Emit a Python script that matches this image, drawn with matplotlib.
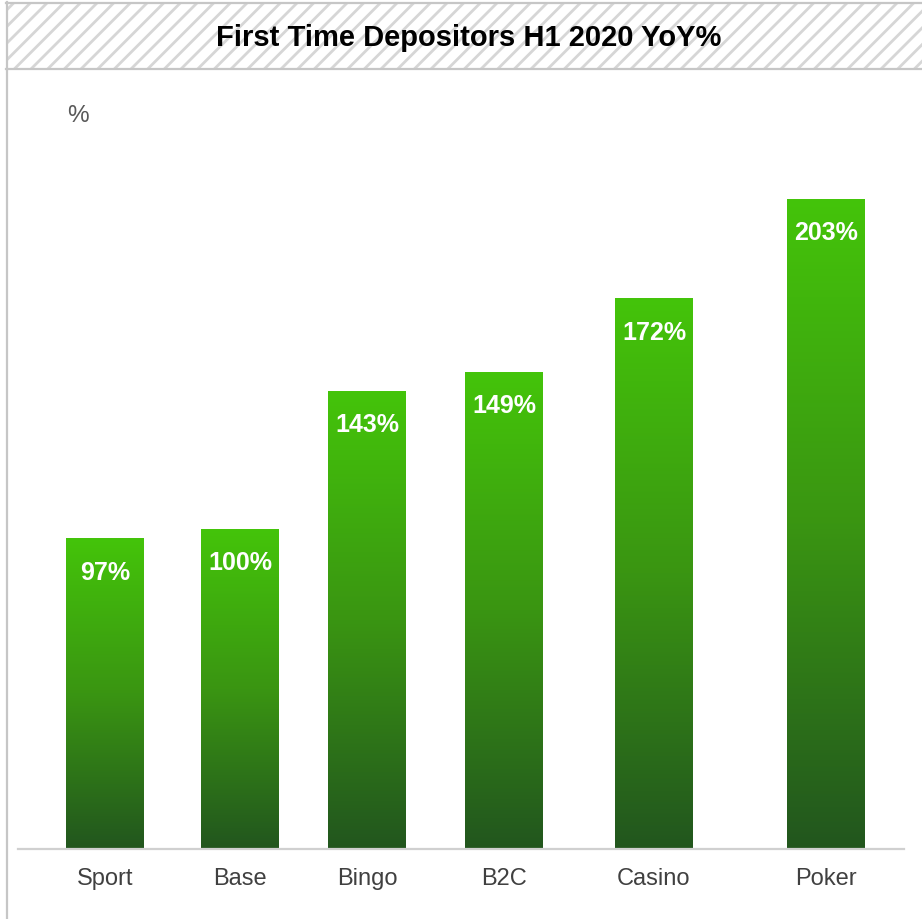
import numpy as np
import matplotlib
matplotlib.use("Agg")
import matplotlib.pyplot as plt
from matplotlib.patches import Rectangle
from matplotlib.colors import LinearSegmentedColormap
from matplotlib.lines import Line2D

# Data
categories = ["Sport", "Base", "Bingo", "B2C", "Casino", "Poker"]
yoy_pct = [97, 100, 143, 149, 172, 203]
value_labels = ["97%", "100%", "143%", "149%", "172%", "203%"]
title_text = "First Time Depositors H1 2020 YoY%"
unit_text = "%"

# Layout (bar centres along the axis, in axis units)
bar_centers = [87, 222, 349, 486, 636, 808]
bar_width = 78

W, H = 922, 920
plt.rcParams["font.family"] = ["Liberation Sans", "DejaVu Sans"]
plt.rcParams["hatch.linewidth"] = 2.0

fig = plt.figure(figsize=(W / 100, H / 100), dpi=100)


def fx(px):
    return px / W


def fy(py):
    return 1 - py / H


# Title band with diagonal hatching
band = Rectangle((fx(6), fy(70)), 1 - fx(6) + 0.01, (70 - 3) / H,
                 transform=fig.transFigure, facecolor="white",
                 edgecolor="#d6d6d6", linewidth=0, hatch="//", zorder=0)
fig.patches.append(band)
border = "#c6c6c6"
fig.add_artist(Line2D([fx(6), 1], [fy(3.5), fy(3.5)], color=border, lw=1.6,
                      transform=fig.transFigure))
fig.add_artist(Line2D([fx(6), 1], [fy(70), fy(70)], color=border, lw=1.6,
                      transform=fig.transFigure))
fig.add_artist(Line2D([fx(6.5), fx(6.5)], [fy(3), 0], color=border, lw=1.6,
                      transform=fig.transFigure))

fig.text(fx(469), fy(38), title_text, ha="center", va="center",
         fontsize=21, fontweight="bold", color="#000000")
fig.text(fx(78), fy(116), unit_text, ha="center", va="center",
         fontsize=17.5, color="#595959")

# Plot area
ax_left, ax_right, ax_top, ax_bottom = 18, 904, 100, 850
ax = fig.add_axes([fx(ax_left), fy(ax_bottom), (ax_right - ax_left) / W,
                   (ax_bottom - ax_top) / H])
ymax = (ax_bottom - ax_top) / 3.2
ax.patch.set_alpha(0)
for s in ["top", "right", "left"]:
    ax.spines[s].set_visible(False)
ax.spines["bottom"].set_color("#d0d0d0")
ax.spines["bottom"].set_linewidth(1.6)
ax.set_yticks([])
ax.set_xticks(bar_centers)
ax.set_xticklabels(categories, fontsize=17, color="#404040")
ax.tick_params(axis="x", length=0, pad=13)

green = LinearSegmentedColormap.from_list("grn", ["#22561e", "#3a9512", "#44c40a"])
grad = np.linspace(0, 1, 256).reshape(-1, 1)

for xc, v, lab in zip(bar_centers, yoy_pct, value_labels):
    x0, x1 = xc - bar_width / 2, xc + bar_width / 2
    ax.imshow(grad, cmap=green, origin="lower", aspect="auto",
              extent=(x0, x1, 0, v), zorder=2, interpolation="bilinear")
    ax.text(xc, v - 33 / 3.2, lab, ha="center", va="center", color="white",
            fontsize=18, fontweight="bold", zorder=3)

ax.set_xlim(0, ax_right - ax_left)
ax.set_ylim(0, ymax)

fig.savefig("out.png", dpi=100)
